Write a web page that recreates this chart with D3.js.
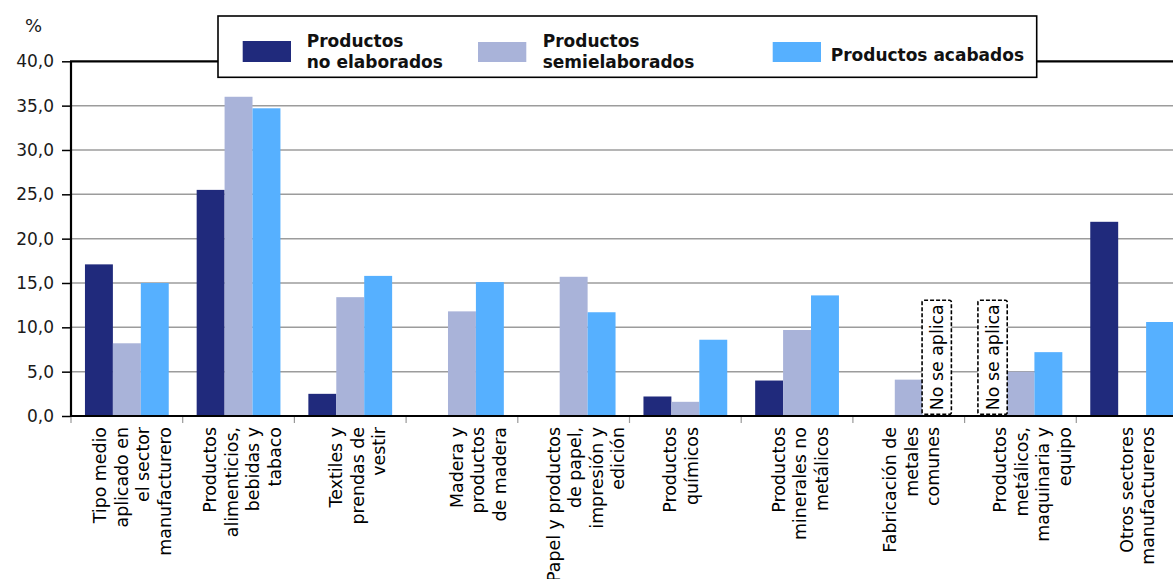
<!DOCTYPE html>
<html>
<head>
<meta charset="utf-8">
<script src="https://cdn.jsdelivr.net/npm/d3@7"></script>
<style>
  html, body { margin: 0; padding: 0; background: #fff; overflow: hidden; }
  svg { display: block; font-family: "DejaVu Sans", Verdana, sans-serif; }
</style>
</head>
<body>
<svg id="chart" width="1173" height="579"></svg>
<script>
// ---- data ----
const categories = [
  ["Tipo medio", "aplicado en", "el sector", "manufacturero"],
  ["Productos", "alimenticios,", "bebidas y", "tabaco"],
  ["Textiles y", "prendas de", "vestir"],
  ["Madera y", "productos", "de madera"],
  ["Papel y productos", "de papel,", "impresión y", "edición"],
  ["Productos", "químicos"],
  ["Productos", "minerales no", "metálicos"],
  ["Fabricación de", "metales", "comunes"],
  ["Productos", "metálicos,", "maquinaria y", "equipo"],
  ["Otros sectores", "manufactureros"]
];
const seriesNames = [["Productos", "no elaborados"], ["Productos", "semielaborados"], ["Productos acabados"]];
// null = "No se aplica"
const noElaborados   = [17.1, 25.5, 2.5, 0, 0, 2.2, 4.0, 0, null, 21.9];
const semielaborados = [8.2, 36.0, 13.4, 11.8, 15.7, 1.6, 9.7, 4.1, 5.0, 0];
const acabados       = [15.0, 34.7, 15.8, 15.1, 11.7, 8.6, 13.6, null, 7.2, 10.6];
const yTicks = [0, 5, 10, 15, 20, 25, 30, 35, 40];
const noAplicaText = "No se aplica";
const unitLabel = "%";

// ---- layout ----
const colors = ["#202A7C", "#A9B3D9", "#56B0FF"];
const series = [noElaborados, semielaborados, acabados];
const plotLeft = 71, plotRight = 1188, plotTop = 61.3, plotBottom = 416;
const labelShift = [5.6, 3.8, 7.4, 16, 12, -4.7, 3, 3, 12, 5.4];
const lineGap = 21.5;
const fontSize = 17;
const labelFont = 17.4;

const svg = d3.select("#chart");
const x = d3.scaleBand().domain(d3.range(categories.length)).range([plotLeft, plotRight]).padding(0);
const xs = d3.scaleBand().domain(d3.range(series.length)).range([0, x.bandwidth()]).paddingInner(0).paddingOuter(0.5);
const y = d3.scaleLinear().domain([0, 40]).range([plotBottom, plotTop]);

// gridlines
svg.append("g").selectAll("line").data(yTicks.filter(t => t > 0 && t < 40)).join("line")
  .attr("x1", plotLeft).attr("x2", plotRight)
  .attr("y1", d => y(d)).attr("y2", d => y(d))
  .attr("stroke", "#9c9c9c").attr("stroke-width", 1.5);

// bars
const bars = [];
series.forEach((s, si) => s.forEach((v, ci) => { if (v !== null) bars.push({ si, ci, v }); }));
svg.append("g").selectAll("rect").data(bars).join("rect")
  .attr("x", d => x(d.ci) + xs(d.si))
  .attr("width", xs.bandwidth())
  .attr("y", d => y(d.v))
  .attr("height", d => y(0) - y(d.v))
  .attr("fill", d => colors[d.si]);

// "No se aplica" boxes
const na = [];
series.forEach((s, si) => s.forEach((v, ci) => { if (v === null) na.push({ si, ci }); }));
const naG = svg.append("g").selectAll("g").data(na).join("g")
  .attr("transform", d => `translate(${x(d.ci) + xs(d.si) + xs.bandwidth() / 2},0)`);
naG.append("rect")
  .attr("x", -14.6).attr("width", 29.3)
  .attr("y", y(13.05)).attr("height", y(0.2) - y(13.05))
  .attr("rx", 2)
  .attr("fill", "#fff").attr("stroke", "#000").attr("stroke-width", 1.6)
  .attr("stroke-dasharray", "4,2");
naG.append("text")
  .attr("transform", `translate(0,${(y(13.05) + y(0.2)) / 2}) rotate(-90)`)
  .attr("text-anchor", "middle").attr("dy", "0.36em")
  .attr("font-size", labelFont).attr("fill", "#000")
  .text(noAplicaText);

// y axis
const yAxis = d3.axisLeft(y).tickValues(yTicks).tickSize(9).tickPadding(8)
  .tickFormat(d => d3.format(".1f")(d).replace(".", ","));
const yg = svg.append("g").attr("transform", `translate(${plotLeft},0)`).call(yAxis);
yg.select(".domain").remove();
yg.selectAll(".tick line").attr("stroke", "#000").attr("stroke-width", 1.5);
yg.selectAll(".tick text").attr("font-size", fontSize).attr("font-family", "DejaVu Sans").attr("fill", "#1a1a1a");

// x axis ticks
const bounds = d3.range(categories.length + 1).map(i => plotLeft + i * x.step());
svg.append("g").selectAll("line").data(bounds).join("line")
  .attr("x1", d => d).attr("x2", d => d)
  .attr("y1", plotBottom).attr("y2", plotBottom + 7)
  .attr("stroke", "#999").attr("stroke-width", 1.2);

// axis frame lines
svg.append("line").attr("x1", plotLeft).attr("x2", plotLeft).attr("y1", plotTop).attr("y2", plotBottom + 1)
  .attr("stroke", "#000").attr("stroke-width", 2.2);
svg.append("line").attr("x1", plotLeft).attr("x2", plotRight).attr("y1", plotBottom).attr("y2", plotBottom)
  .attr("stroke", "#000").attr("stroke-width", 2.2);
svg.append("line").attr("x1", plotLeft - 1).attr("x2", plotRight).attr("y1", plotTop).attr("y2", plotTop)
  .attr("stroke", "#000").attr("stroke-width", 2.2);

// category labels
const lab = svg.append("g").selectAll("g").data(categories).join("g");
lab.each(function(lines, ci) {
  const n = lines.length;
  const cx = x(ci) + x.bandwidth() / 2 + labelShift[ci];
  d3.select(this).selectAll("text").data(lines).join("text")
    .attr("transform", (t, i) => `translate(${cx + 6.1 + (i - (n - 1) / 2) * lineGap},427) rotate(-90)`)
    .attr("text-anchor", "end")
    .attr("font-size", labelFont).attr("fill", "#000")
    .text(t => t);
});

// unit label
svg.append("text").attr("x", 25).attr("y", 31.7).attr("font-size", 18).attr("fill", "#1a1a1a").text(unitLabel);

// legend
const lg = svg.append("g");
lg.append("rect").attr("x", 218).attr("y", 16).attr("width", 818.7).attr("height", 61.3)
  .attr("fill", "#fff").attr("stroke", "#000").attr("stroke-width", 1.6);
const legendItems = [
  { sx: 242.7, tx: 306.7 },
  { sx: 478, tx: 542.7 },
  { sx: 772.7, tx: 830.7 }
];
legendItems.forEach((it, i) => {
  lg.append("rect").attr("x", it.sx).attr("y", i === 0 ? 41 : 42).attr("width", 48.3).attr("height", i === 0 ? 21 : 20)
    .attr("fill", colors[i]);
  const lines = seriesNames[i];
  lg.selectAll(null).data(lines).join("text")
    .attr("x", it.tx)
    .attr("y", (t, j) => lines.length === 1 ? 60.7 : 46.7 + j * 21.6)
    .attr("font-size", fontSize).attr("font-weight", "bold").attr("fill", "#111")
    .text(t => t);
});
</script>
</body>
</html>
